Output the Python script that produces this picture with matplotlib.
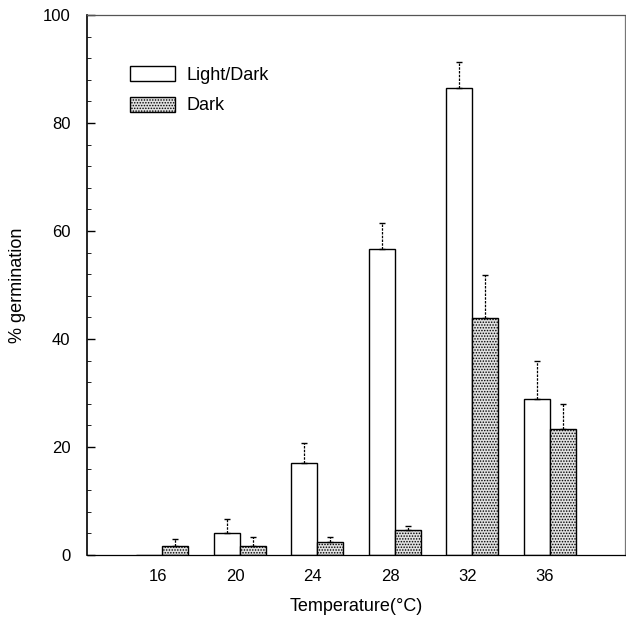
import matplotlib.pyplot as plt
import numpy as np

plt.rcParams['font.family'] = ['Liberation Sans', 'DejaVu Sans']

# % germination
temps = ['16', '20', '24', '28', '32', '36']
light_dark = [0.0, 4.1, 17.0, 56.7, 86.5, 28.9]
light_dark_err = [0.0, 2.5, 3.8, 4.8, 4.8, 7.1]
dark = [1.7, 1.7, 2.4, 4.6, 43.9, 23.3]
dark_err = [1.2, 1.6, 0.9, 0.7, 8.0, 4.7]

x = np.arange(len(temps))
w = 0.335

fig = plt.figure(figsize=(6.26, 6.27), dpi=100)
ax = fig.add_axes([0.139, 0.115, 0.859, 0.861])

ax.bar(x - w / 2, light_dark, w, color='white', edgecolor='black',
       linewidth=1.0, label='Light/Dark')
plt.rcParams['hatch.linewidth'] = 0.7
ax.bar(x + w / 2, dark, w, color='#e0e0e0', edgecolor='black',
       linewidth=1.0, hatch='......', label='Dark')

for xs, vals, errs in [(x - w / 2, light_dark, light_dark_err),
                       (x + w / 2, dark, dark_err)]:
    keep = np.array(errs) > 0
    eb = ax.errorbar(xs[keep], np.array(vals)[keep],
                     yerr=[np.zeros(keep.sum()), np.array(errs)[keep]],
                     fmt='none', ecolor='black', elinewidth=0.9,
                     capsize=2.5, capthick=1.0)
    eb[2][0].set_linestyle((0, (2, 1)))

ax.set_xlim(-0.97, 5.97)
ax.set_ylim(0, 100)
# labels sit a little left of the group centres in the original
ax.set_xticks(x - 0.06)
ax.set_xticklabels(temps, fontsize=12)
ax.set_yticks(np.arange(0, 101, 20))
ax.set_yticks(np.arange(0, 101, 4), minor=True)
ax.tick_params(axis='y', which='major', direction='in', length=6,
               labelsize=12, width=1, pad=12)
ax.tick_params(axis='y', which='minor', direction='in', length=3)
ax.tick_params(axis='x', length=0, pad=10)

ax.spines['left'].set_linewidth(1.2)
for s in ['top', 'right', 'bottom']:
    ax.spines[s].set_linestyle((0, (1.5, 1)))
    ax.spines[s].set_linewidth(0.9)
ax.spines['top'].set_color('#555555')
ax.spines['right'].set_color('#777777')

ax.set_xlabel('Temperature(°C)', fontsize=13, labelpad=10)
ax.set_ylabel('% germination', fontsize=13, labelpad=12)

ax.legend(loc='upper left', bbox_to_anchor=(0.05, 0.935), frameon=False,
          fontsize=13, handlelength=2.5, handleheight=0.9,
          labelspacing=0.7, handletextpad=0.6)

fig.savefig('out.png', dpi=100)
